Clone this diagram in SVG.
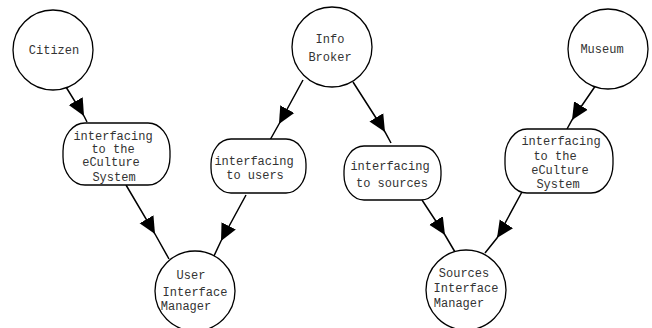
<svg xmlns="http://www.w3.org/2000/svg" width="652" height="328" viewBox="0 0 652 328">
<style>
.n{fill:#fff;stroke:#000;stroke-width:1.3}
.t{font-family:"Liberation Mono","Courier New",monospace;font-size:12px;fill:#333;text-anchor:middle}
.c{fill:none;stroke:#000;stroke-width:1.5;marker-mid:url(#ah)}
</style>
<defs>
<marker id="ah" markerUnits="userSpaceOnUse" markerWidth="18" markerHeight="18" viewBox="0 -9 18 18" refX="17" refY="0" orient="auto">
<path d="M0,-8 L17,0 L0,8 z" fill="#000"/>
</marker>
</defs>
<rect width="652" height="328" fill="#fff"/>
<g id="connectors">
<path class="c" d="M66,87 L84,116 L87,122"/>
<path class="c" d="M303,80 L279,124 L270,140"/>
<path class="c" d="M353,82 L385,132 L391,143"/>
<path class="c" d="M596,85 L572,120 L567,129"/>
<path class="c" d="M126,185 L155,234 L169,259"/>
<path class="c" d="M246,195 L221,241 L213,258"/>
<path class="c" d="M422,200 L445,235 L455,252"/>
<path class="c" d="M523,190 L497,238 L485,253"/>
</g>
<g id="citizen">
<circle class="n" cx="53" cy="50" r="40"/>
<text class="t" x="54" y="54">Citizen</text>
</g>
<g id="info-broker">
<circle class="n" cx="332" cy="47" r="40"/>
<text class="t" x="330" y="43">Info</text>
<text class="t" x="330" y="61">Broker</text>
</g>
<g id="museum">
<circle class="n" cx="608" cy="49" r="40"/>
<text class="t" x="602" y="53">Museum</text>
</g>
<g id="citizen-interface">
<rect class="n" x="63" y="123" width="107" height="62" rx="22" ry="28"/>
<text class="t" x="113" y="140">interfacing</text>
<text class="t" x="113" y="153">to the</text>
<text class="t" x="111" y="166">eCulture</text>
<text class="t" x="114" y="181">System</text>
</g>
<g id="users-interface">
<rect class="n" x="211" y="139" width="95" height="54" rx="20" ry="25"/>
<text class="t" x="254" y="165">interfacing</text>
<text class="t" x="255" y="179">to users</text>
</g>
<g id="sources-interface">
<rect class="n" x="344" y="146" width="97" height="54" rx="20" ry="25"/>
<text class="t" x="390" y="170">interfacing</text>
<text class="t" x="392" y="187">to sources</text>
</g>
<g id="museum-interface">
<rect class="n" x="505" y="129" width="108" height="64" rx="22" ry="29"/>
<text class="t" x="561" y="145">interfacing</text>
<text class="t" x="555" y="160">to the</text>
<text class="t" x="560" y="174">eCulture</text>
<text class="t" x="558" y="188">System</text>
</g>
<g id="user-interface-manager">
<circle class="n" cx="195" cy="291" r="40"/>
<text class="t" x="191" y="279">User</text>
<text class="t" x="195" y="296">Interface</text>
<text class="t" x="186" y="310">Manager</text>
</g>
<g id="sources-interface-manager">
<circle class="n" cx="466" cy="290" r="40"/>
<text class="t" x="464" y="277">Sources</text>
<text class="t" x="466" y="292">Interface</text>
<text class="t" x="459" y="307">Manager</text>
</g>
</svg>
